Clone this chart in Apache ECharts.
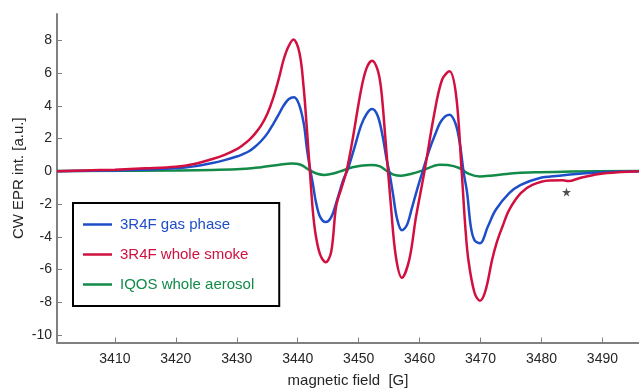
<!DOCTYPE html>
<html>
<head>
<meta charset="utf-8">
<script src="https://cdn.jsdelivr.net/npm/echarts@6/dist/echarts.min.js"></script>
<style>html,body{margin:0;padding:0;background:#fff}#c{width:639px;height:390px}</style>
</head>
<body>
<div id="c"></div>
<script>
var seriesNames = ['3R4F gas phase', '3R4F whole smoke', 'IQOS whole aerosol'];
var xTicks = [3410, 3420, 3430, 3440, 3450, 3460, 3470, 3480, 3490];
var yTicks = [-10, -8, -6, -4, -2, 0, 2, 4, 6, 8];

var gasField = [3400.5,3410,3415,3420,3423,3426,3428,3430,3431,3432,3433,3434,3435,3436,3437,3437.6,3438.5,3439.4,3440.2,3441,3441.5,3442,3442.5,3443,3443.7,3444.6,3445.5,3446.5,3447.5,3448.2,3449.2,3450.4,3451.3,3452.2,3453.1,3453.9,3454.6,3455,3455.6,3456.3,3457.1,3457.9,3458.7,3459.6,3460.5,3461.5,3462.5,3463.6,3464.9,3465.9,3466.6,3467.2,3467.8,3468.4,3469,3469.9,3471.2,3472.5,3474.7,3476.6,3479.6,3482.9,3486.2,3489.5,3496];
var gasVal = [0,0.05,0.1,0.18,0.3,0.5,0.68,0.9,1.05,1.22,1.5,1.85,2.3,2.9,3.55,3.96,4.4,4.52,4.1,2.9,1.4,0.2,-0.8,-1.9,-2.8,-3.1,-2.8,-1.7,-0.5,0.1,1.3,2.8,3.5,3.8,3.4,2.2,0.7,0,-1.3,-2.9,-3.6,-3.3,-2.3,-1.1,0,1.2,2.2,3.1,3.45,2.9,1.7,0,-1.33,-3.37,-4.2,-4.39,-3.37,-2.35,-1.33,-0.83,-0.42,-0.27,-0.15,-0.07,0];

var smokeField = [3400.5,3405,3410,3415,3420,3423,3426,3428,3430,3431,3432,3433,3434,3435,3436,3437,3437.6,3438.4,3439.3,3440.3,3441,3441.5,3442,3442.5,3443,3443.7,3444.6,3445.5,3446.3,3447.2,3448,3449,3450.4,3451.3,3452.2,3453.1,3453.7,3454.4,3455.3,3456.1,3457.1,3458.3,3459.4,3460.8,3462.4,3463.7,3464.9,3466,3466.9,3467.5,3468,3469,3469.9,3470.8,3471.9,3472.7,3473.6,3474.7,3476.6,3478.5,3481.3,3483.5,3484.5,3486.2,3489.5,3493,3496];
var smokeVal = [0,0.05,0.1,0.18,0.28,0.45,0.75,1.0,1.35,1.6,1.9,2.3,2.8,3.5,4.5,5.8,6.7,7.55,8.05,7.2,5.0,2.6,0,-2.5,-4.0,-5.1,-5.55,-4.9,-2.15,-1.0,0,1.93,4.98,6.3,6.75,6.2,4.98,1.93,-2.15,-5.2,-6.5,-5.4,-2.8,0,3.5,5.6,6.1,4.6,0,-3.4,-5.4,-7.4,-7.9,-7.3,-5.4,-4.3,-3.37,-2.35,-1.33,-0.83,-0.56,-0.55,-0.6,-0.42,-0.17,-0.05,0];

var iqosField = [3400.5,3420,3430,3434,3437,3439,3440.5,3442,3443.2,3444.4,3446,3447.4,3449,3452,3453.5,3454.5,3455.7,3457,3458.7,3460.5,3463.3,3464.6,3466.5,3468.1,3469.9,3472,3474.2,3476,3479.6,3485,3496];
var iqosVal = [0.02,0.05,0.12,0.25,0.4,0.48,0.4,0.05,-0.15,-0.22,-0.12,0.05,0.25,0.38,0.3,0.05,-0.2,-0.27,-0.15,0.05,0.4,0.38,0.2,-0.16,-0.32,-0.25,-0.16,-0.1,-0.06,-0.02,0.02];

var starField = [3484.1];
var starVal = [-1.27];

function pairs(xs, ys) { return xs.map(function (x, i) { return [x, ys[i]]; }); }

var colors = ['#1f4ec9', '#d1103f', '#128a48'];
var FONT = 'Liberation Sans, Arial, sans-serif';
var chart = echarts.init(document.getElementById('c'));
var starPath = 'path://M50,0 L61,35 L98,35 L68,57 L79,91 L50,70 L21,91 L32,57 L2,35 L39,35 Z';
chart.setOption({
  animation: false,
  backgroundColor: '#fff',
  grid: { left: 57, right: 0, top: 14, bottom: 47.5, containLabel: false, outerBoundsMode: 'none' },
  legend: {
    orient: 'vertical',
    left: 73, top: 203,
    padding: [13, 25, 13, 10],
    icon: 'rect',
    itemWidth: 29, itemHeight: 2.5, itemGap: 13,
    borderColor: '#000', borderWidth: 2,
    backgroundColor: '#fff',
    data: seriesNames.map(function (n, i) {
      return { name: n, itemStyle: { color: colors[i] }, textStyle: { color: colors[i] } };
    }),
    textStyle: { fontSize: 15, lineHeight: 17, fontFamily: FONT, padding: [0, 0, 0, 3] }
  },
  xAxis: {
    type: 'value', min: 3400.5, max: 3496,
    name: 'magnetic field  [G]', nameLocation: 'middle', nameGap: 31, nameMoveOverlap: false,
    nameTextStyle: { fontSize: 15, color: '#262626', fontFamily: FONT },
    axisLine: { show: true, onZero: false, lineStyle: { color: '#808080', width: 2 } },
    axisTick: { show: true, inside: true, length: 5, lineStyle: { color: '#808080', width: 1 }, customValues: xTicks },
    axisLabel: { color: '#262626', fontSize: 14, margin: 10, fontFamily: FONT, customValues: xTicks, formatter: function (v) { return String(v); } },
    splitLine: { show: false }
  },
  yAxis: {
    type: 'value', min: -10.45, max: 9.6,
    name: 'CW EPR int. [a.u.]', nameLocation: 'middle', nameGap: 31, nameRotate: 90, nameMoveOverlap: false,
    nameTextStyle: { fontSize: 15, color: '#262626', fontFamily: FONT },
    axisLine: { show: true, onZero: false, lineStyle: { color: '#808080', width: 2 } },
    axisTick: { show: true, inside: true, length: 5, lineStyle: { color: '#808080', width: 1 }, customValues: yTicks },
    axisLabel: { color: '#262626', fontSize: 14, margin: 5, fontFamily: FONT, customValues: yTicks, formatter: function (v) { return String(v); } },
    splitLine: { show: false }
  },
  series: [
    { name: seriesNames[2], type: 'line', data: pairs(iqosField, iqosVal), smooth: 0.35, symbol: 'none', lineStyle: { color: colors[2], width: 2.5 }, itemStyle: { color: colors[2] }, z: 2 },
    { name: seriesNames[0], type: 'line', data: pairs(gasField, gasVal), smooth: 0.35, symbol: 'none', lineStyle: { color: colors[0], width: 2.5 }, itemStyle: { color: colors[0] }, z: 3 },
    { name: seriesNames[1], type: 'line', data: pairs(smokeField, smokeVal), smooth: 0.35, symbol: 'none', lineStyle: { color: colors[1], width: 2.5 }, itemStyle: { color: colors[1] }, z: 4 },
    { name: 'star', type: 'scatter', data: pairs(starField, starVal), symbol: starPath, symbolSize: 9, itemStyle: { color: '#222' }, z: 5 }
  ]
});
</script>
</body>
</html>
